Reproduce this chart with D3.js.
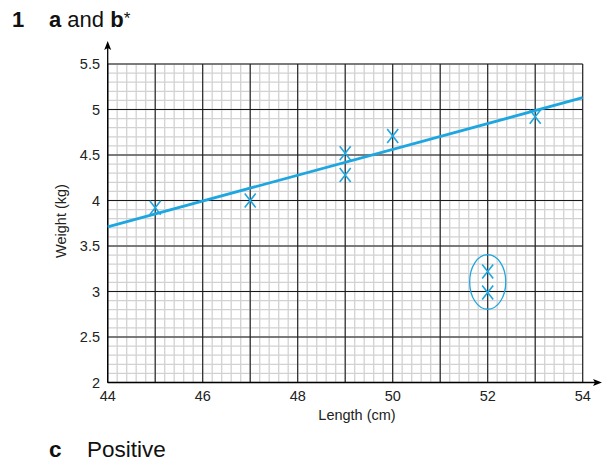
<!DOCTYPE html>
<html>
<head>
<meta charset="utf-8">
<script src="https://cdn.jsdelivr.net/npm/d3@7"></script>
<style>
  html, body { margin: 0; padding: 0; background: #fff; }
  svg { display: block; font-family: "Liberation Sans", Arial, Helvetica, sans-serif; }
</style>
</head>
<body>
<svg id="chart" width="604" height="461"></svg>
<script>
// Measurements: baby length (cm) against weight (kg)
const lengths = [45, 47, 49, 49, 50, 53, 52, 52];
const weights = [3.92, 4.0, 4.52, 4.28, 4.71, 4.92, 3.22, 2.99];
// indices of the two ringed outliers
const outlierIdx = [6, 7];
// line of best fit end points
const fitLengths = [44, 54];
const fitWeights = [3.71, 5.13];
// tick labels
const xTicks = [44, 46, 48, 50, 52, 54];
const yTicks = [2, 2.5, 3, 3.5, 4, 4.5, 5, 5.5];

const blue = "#1ea6e0";
const svg = d3.select("#chart");

const x = d3.scaleLinear().domain([44, 54]).range([107.7, 582.7]);
const y = d3.scaleLinear().domain([2, 5.5]).range([382.5, 64]);

// minor grid
const minorX = d3.range(0, 51).map(i => 44 + i * 0.2);
const minorY = d3.range(0, 36).map(i => 2 + i * 0.1);
const grid = svg.append("g");
grid.selectAll(".mx").data(minorX).join("line")
  .attr("x1", d => x(d)).attr("x2", d => x(d))
  .attr("y1", y(2)).attr("y2", y(5.5))
  .attr("stroke", "#d2d2d2").attr("stroke-width", 1.3);
grid.selectAll(".my").data(minorY).join("line")
  .attr("x1", x(44)).attr("x2", x(54))
  .attr("y1", d => y(d)).attr("y2", d => y(d))
  .attr("stroke", "#d2d2d2").attr("stroke-width", 1.3);

// major grid
const majorX = d3.range(44, 55, 1);
const majorY = d3.range(0, 8).map(i => 2 + i * 0.5);
grid.selectAll(".Mx").data(majorX).join("line")
  .attr("x1", d => x(d)).attr("x2", d => x(d))
  .attr("y1", y(2)).attr("y2", y(5.5))
  .attr("stroke", "#1a1a1a").attr("stroke-width", 1.1);
grid.selectAll(".My").data(majorY).join("line")
  .attr("x1", x(44)).attr("x2", x(54))
  .attr("y1", d => y(d)).attr("y2", d => y(d))
  .attr("stroke", "#1a1a1a").attr("stroke-width", 1.1);

// axes with arrow heads
svg.append("line").attr("x1", x(44)).attr("x2", x(44))
  .attr("y1", y(2)).attr("y2", 46).attr("stroke", "#000").attr("stroke-width", 1.3);
svg.append("path")
  .attr("d", `M${x(44)},41 L${x(44) - 3.5},50 L${x(44)},48 L${x(44) + 3.5},50 Z`)
  .attr("fill", "#000");
svg.append("line").attr("x1", x(44)).attr("x2", 597)
  .attr("y1", y(2)).attr("y2", y(2)).attr("stroke", "#000").attr("stroke-width", 1.3);
svg.append("path")
  .attr("d", `M602,${y(2)} L593,${y(2) - 3.5} L595,${y(2)} L593,${y(2) + 3.5} Z`)
  .attr("fill", "#000");

// tick labels
svg.append("g").selectAll("text").data(yTicks).join("text")
  .attr("x", 100).attr("y", d => y(d) + 5.2)
  .attr("text-anchor", "end").attr("font-size", 14.5).attr("fill", "#222")
  .text(d => d);
svg.append("g").selectAll("text").data(xTicks).join("text")
  .attr("x", d => x(d)).attr("y", 400.5)
  .attr("text-anchor", "middle").attr("font-size", 14.5).attr("fill", "#222")
  .text(d => d);

// axis titles
svg.append("text").attr("x", 357).attr("y", 420)
  .attr("text-anchor", "middle").attr("font-size", 14.5).attr("fill", "#222")
  .text("Length (cm)");
svg.append("text").attr("transform", "translate(65.5,221) rotate(-90)")
  .attr("text-anchor", "middle").attr("font-size", 14.5).attr("fill", "#222")
  .text("Weight (kg)");

// line of best fit
svg.append("line")
  .attr("x1", x(fitLengths[0])).attr("y1", y(fitWeights[0]))
  .attr("x2", x(fitLengths[1])).attr("y2", y(fitWeights[1]))
  .attr("stroke", blue).attr("stroke-width", 2.8);

// crosses for each measurement
const pts = lengths.map((l, i) => ({ l, w: weights[i] }));
svg.append("g").selectAll("path").data(pts).join("path")
  .attr("d", d => {
    const cx = x(d.l), cy = y(d.w), hw = 5.5, hh = 7;
    return `M${cx - hw},${cy - hh} L${cx + hw},${cy + hh} M${cx - hw},${cy + hh} L${cx + hw},${cy - hh}`;
  })
  .attr("stroke", blue).attr("stroke-width", 1.6).attr("fill", "none");

// ring around the outliers
const oL = d3.mean(outlierIdx, i => lengths[i]);
const oW = d3.mean(outlierIdx, i => weights[i]);
svg.append("ellipse")
  .attr("cx", x(oL)).attr("cy", y(oW))
  .attr("rx", x(oL + 0.38) - x(oL)).attr("ry", y(oW) - y(oW + 0.3))
  .attr("fill", "none").attr("stroke", blue).attr("stroke-width", 1.3);

// question heading and answer
const head = svg.append("text").attr("x", 12).attr("y", 27)
  .attr("font-size", 22).attr("fill", "#111");
head.append("tspan").attr("font-weight", "bold").text("1");
head.append("tspan").attr("x", 49).attr("font-weight", "bold").text("a");
head.append("tspan").text(" and ");
head.append("tspan").attr("font-weight", "bold").text("b");
head.append("tspan").attr("dy", -3).attr("font-size", 17).text("*");

const ans = svg.append("text").attr("y", 457).attr("font-size", 22.5).attr("fill", "#111");
ans.append("tspan").attr("x", 49).attr("font-weight", "bold").text("c");
ans.append("tspan").attr("x", 87).text("Positive");
</script>
</body>
</html>
